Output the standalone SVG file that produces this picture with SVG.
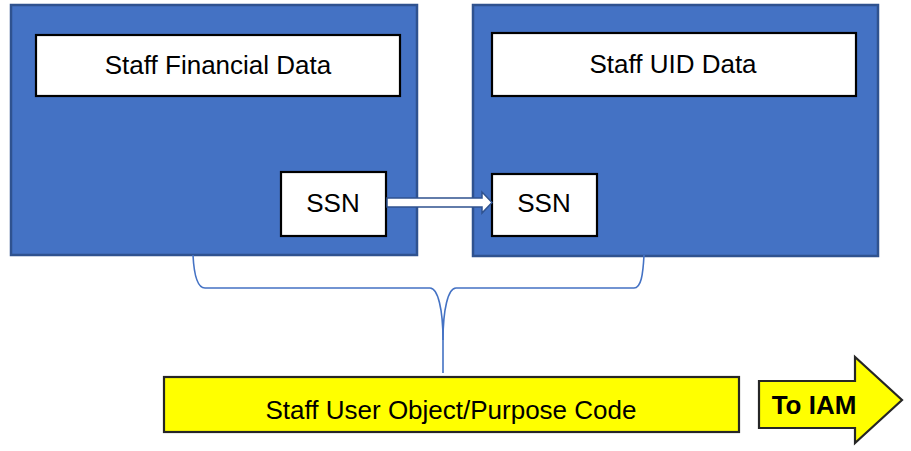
<svg xmlns="http://www.w3.org/2000/svg" width="911" height="451" viewBox="0 0 911 451">
<style>
.blue{fill:#4472C4;stroke:#2F528F;stroke-width:2.5}
.white{fill:#FFFFFF;stroke:#000000;stroke-width:2.2}
.yellow{fill:#FFFF00;stroke:#262626;stroke-width:2.2}
.t{font-family:"Liberation Sans",Arial,sans-serif;font-size:26px;fill:#000000;text-anchor:middle}
.b{font-weight:bold}
.brace{fill:none;stroke:#4472C4;stroke-width:1.6}
</style>
<rect width="911" height="451" fill="#FFFFFF"/>
<g id="financial">
<rect class="blue" x="11" y="5" width="406" height="250"/>
<rect class="white" x="36" y="35" width="364" height="61"/>
<text class="t" x="218" y="74">Staff Financial Data</text>
</g>
<g id="uid">
<rect class="blue" x="473" y="5" width="405" height="251"/>
<rect class="white" x="492" y="33" width="364" height="63"/>
<text class="t" x="673" y="73">Staff UID Data</text>
</g>
<g id="ssn-left">
<rect class="white" x="281" y="172" width="105" height="64"/>
<text class="t" x="333" y="212">SSN</text>
</g>
<g id="ssn-right">
<rect class="white" x="492" y="174" width="105" height="62"/>
<text class="t" x="544" y="212">SSN</text>
</g>
<g id="connectors">
<polygon points="387,198 482,198 482,192 492,202.5 482,213 482,207 387,207" fill="#FFFFFF" stroke="#2F528F" stroke-width="1.5"/>
<path class="brace" d="M443,373 L443,340 C443,310 438,288 430,288 L205,288 C198,288 194,275 193,255"/>
<path class="brace" d="M443,340 C443,310 448,288 456,288 L634,288 C641,288 643,275 644,255"/>
</g>
<g id="purpose">
<rect class="yellow" x="164" y="377" width="575" height="55"/>
<text class="t" x="451" y="419">Staff User Object/Purpose Code</text>
</g>
<g id="to-iam">
<polygon class="yellow" points="759,381 855,381 855,357 902,400 855,443 855,428 759,428"/>
<text class="t b" x="814" y="414">To IAM</text>
</g>
</svg>
